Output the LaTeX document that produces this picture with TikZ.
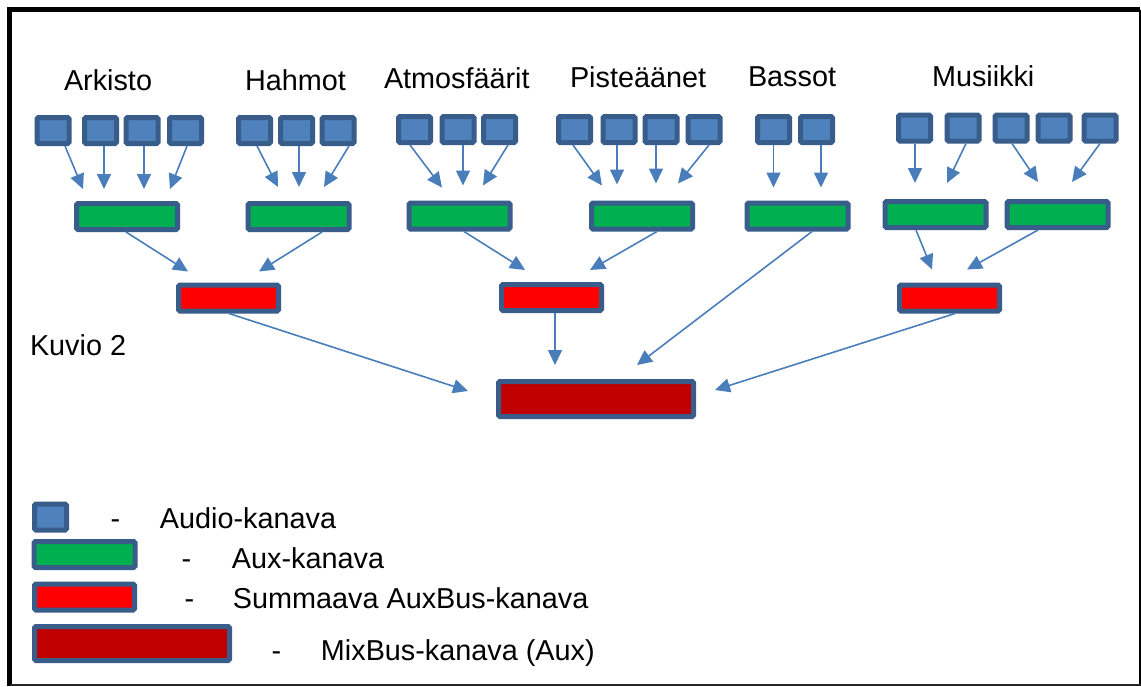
\documentclass[tikz,border=0pt]{standalone}
\usepackage{fontspec}
\setmainfont{Liberation Sans}
\usepackage{tikz}
\usetikzlibrary{arrows.meta}

\definecolor{chline}{RGB}{56,93,138}
\definecolor{audfill}{RGB}{79,129,189}
\definecolor{auxfill}{RGB}{0,176,80}
\definecolor{sumfill}{RGB}{255,0,0}
\definecolor{mixfill}{RGB}{192,0,0}
\definecolor{wirecol}{RGB}{74,126,187}

\begin{document}
\begin{tikzpicture}[x=1pt,y=-1pt,
  chan/.style={draw=chline,line width=5pt,rounded corners=1.5pt,inner sep=0pt},
  aud/.style={chan,fill=audfill,minimum width=32pt,minimum height=26pt},
  aux/.style={chan,fill=auxfill,minimum width=101pt,minimum height=26pt},
  sum/.style={chan,fill=sumfill,minimum width=100pt,minimum height=26pt},
  mix/.style={chan,fill=mixfill,minimum width=195pt,minimum height=35pt},
  lbl/.style={inner sep=0pt,outer sep=0pt,anchor=base west,font=\fontsize{28.8}{34}\selectfont},
  wire/.style={draw=wirecol,line width=1.6pt,-{Triangle[length=15pt,width=14pt]}}]
\path[use as bounding box] (0,0) rectangle (1141,686);
\path[fill=white,draw=none] (0,0) rectangle (1141,686);
% frame
\draw[line width=5pt] (9.5,686) -- (9.5,9.5) -- (1140,9.5);
\draw[line width=2pt] (1140,9.5) -- (1140,685);
\draw[line width=1.5pt,draw=black!85] (9.5,685) -- (1141,685);
% group titles
\node[lbl] (tArk) at (64,90.5) {Arkisto};
\node[lbl] (tHah) at (245,90.5) {Hahmot};
\node[lbl] (tAtm) at (384,88.5) {Atmosfäärit};
\node[lbl] (tPis) at (570,87.5) {Pisteäänet};
\node[lbl] (tBas) at (748,86.5) {Bassot};
\node[lbl] (tMus) at (932,86) {Musiikki};
\node[lbl] (kuvio) at (30,355) {Kuvio 2};
% audio channels
\node[aud] (ark1) at (53,130.5) {};
\node[aud] (ark2) at (100.5,130.5) {};
\node[aud] (ark3) at (142,130.5) {};
\node[aud] (ark4) at (185.5,130.5) {};
\node[aud] (hah1) at (254.5,130.5) {};
\node[aud] (hah2) at (296.5,130.5) {};
\node[aud] (hah3) at (338,130.5) {};
\node[aud] (atm1) at (414.5,129.5) {};
\node[aud] (atm2) at (458,129.5) {};
\node[aud] (atm3) at (499.5,129.5) {};
\node[aud] (pis1) at (574.5,129.5) {};
\node[aud] (pis2) at (619,129.5) {};
\node[aud] (pis3) at (661,129.5) {};
\node[aud] (pis4) at (704,129.5) {};
\node[aud] (bas1) at (773.5,129.5) {};
\node[aud] (bas2) at (816.5,129.5) {};
\node[aud] (mus1) at (914.5,128) {};
\node[aud] (mus2) at (963,128) {};
\node[aud] (mus3) at (1011,128) {};
\node[aud] (mus4) at (1054,128) {};
\node[aud] (mus5) at (1100,128) {};
% aux channels
\node[aux] (auxArk) at (127,216.5) {};
\node[aux] (auxHah) at (298.5,216.5) {};
\node[aux] (auxAtm) at (459.5,216) {};
\node[aux] (auxPis) at (642,216) {};
\node[aux] (auxBas) at (797.5,216) {};
\node[aux] (auxMusA) at (935.5,214.5) {};
\node[aux] (auxMusB) at (1057.5,214.5) {};
% summing auxbus channels and mixbus
\node[sum] (sumA) at (228.5,298) {};
\node[sum] (sumB) at (551.5,297.5) {};
\node[sum] (sumC) at (949.5,298) {};
\node[mix] (mixbus) at (596,399) {};
% audio -> aux
\draw[wire] ([xshift=12pt]ark1.south) -- ([xshift=-44pt,yshift=12pt]auxArk.north);
\draw[wire] ([xshift=3.5pt]ark2.south) -- ([xshift=-23pt,yshift=12pt]auxArk.north);
\draw[wire] ([xshift=2pt]ark3.south) -- ([xshift=17pt,yshift=12pt]auxArk.north);
\draw[wire] ([xshift=1.5pt]ark4.south) -- ([xshift=43pt,yshift=12pt]auxArk.north);
\draw[wire] ([xshift=2.5pt]hah1.south) -- ([xshift=-20.5pt,yshift=14pt]auxHah.north);
\draw[wire] ([xshift=2.5pt]hah2.south) -- ([xshift=0.5pt,yshift=14pt]auxHah.north);
\draw[wire] ([xshift=11pt]hah3.south) -- ([xshift=25.5pt,yshift=14pt]auxHah.north);
\draw[wire] ([xshift=-4.5pt]atm1.south) -- ([xshift=-17.5pt,yshift=13pt]auxAtm.north);
\draw[wire] ([xshift=5pt]atm2.south) -- ([xshift=3.5pt,yshift=15pt]auxAtm.north);
\draw[wire] ([xshift=8.5pt]atm3.south) -- ([xshift=23.5pt,yshift=15pt]auxAtm.north);
\draw[wire] ([xshift=-1.5pt]pis1.south) -- ([xshift=-40pt,yshift=15pt]auxPis.north);
\draw[wire] ([xshift=-2pt]pis2.south) -- ([xshift=-25pt,yshift=16pt]auxPis.north);
\draw[wire] ([xshift=-5pt]pis3.south) -- ([xshift=14pt,yshift=17pt]auxPis.north);
\draw[wire] ([xshift=5pt]pis4.south) -- ([xshift=36pt,yshift=17pt]auxPis.north);
\draw[wire] (bas1.south) -- ([xshift=-24pt,yshift=13pt]auxBas.north);
\draw[wire] ([xshift=4.5pt]bas2.south) -- ([xshift=23.5pt,yshift=13pt]auxBas.north);
\draw[wire] ([xshift=0.5pt]mus1.south) -- ([xshift=-20.5pt,yshift=16pt]auxMusA.north);
\draw[wire] ([xshift=3pt]mus2.south) -- ([xshift=11.5pt,yshift=16pt]auxMusA.north);
\draw[wire] ([xshift=1pt]mus3.south) -- ([xshift=-19.5pt,yshift=17pt]auxMusB.north);
\draw[wire] (mus5.south) -- ([xshift=14.5pt,yshift=17pt]auxMusB.north);
% aux -> summing
\draw[wire] ([xshift=-1pt]auxArk.south) -- ([xshift=-40.5pt,yshift=11pt]sumA.north);
\draw[wire] ([xshift=23.5pt]auxHah.south) -- ([xshift=30.5pt,yshift=11pt]sumA.north);
\draw[wire] ([xshift=4.5pt]auxAtm.south) -- ([xshift=-26.5pt,yshift=12pt]sumB.north);
\draw[wire] ([xshift=15pt]auxPis.south) -- ([xshift=38.5pt,yshift=12pt]sumB.north);
\draw[wire] ([xshift=-19.5pt]auxMusA.south) -- ([xshift=-17.5pt,yshift=13pt]sumC.north);
\draw[wire] ([xshift=-19.5pt]auxMusB.south) -- ([xshift=17.5pt,yshift=13pt]sumC.north);
% into mixbus
\draw[wire] ([xshift=14.5pt]auxBas.south) -- ([xshift=41pt,yshift=14pt]mixbus.north);
\draw[wire] ([xshift=0.5pt]sumA.south) -- ([xshift=-28pt,yshift=8pt]mixbus.west);
\draw[wire] ([xshift=3.5pt]sumB.south) -- ([xshift=-41pt,yshift=14pt]mixbus.north);
\draw[wire] ([xshift=5.5pt]sumC.south) -- ([xshift=19pt,yshift=9pt]mixbus.east);
% legend
\node[aud] (legAud) at (50.5,517) {};
\node[aux] (legAux) at (84.5,554.5) {};
\node[sum] (legSum) at (84.5,597) {};
\node[mix,minimum height=34pt] (legMix) at (132,643.5) {};
\node[lbl] (legAudT) at (110.7,528) {-\hspace{39.7pt}Audio-kanava};
\node[lbl] (legAuxT) at (181.7,568) {-\hspace{40.7pt}Aux-kanava};
\node[lbl] (legSumT) at (184.7,608) {-\hspace{38.7pt}Summaava AuxBus-kanava};
\node[lbl] (legMixT) at (271.7,660) {-\hspace{39.7pt}MixBus-kanava (Aux)};
\end{tikzpicture}
\end{document}
